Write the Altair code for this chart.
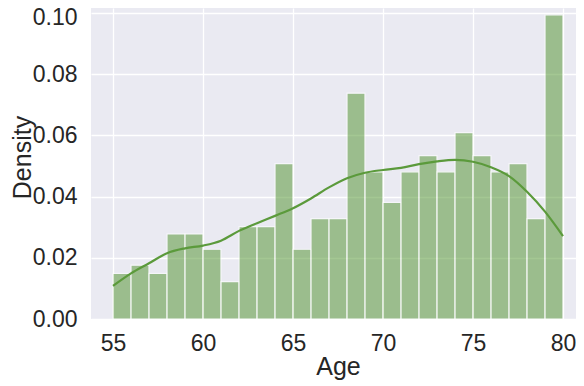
import altair as alt
import pandas as pd

# Histogram (bin width 1 year, 55..80), density values
bin_start = list(range(55, 80))
density = [0.0149, 0.0176, 0.0149, 0.0278, 0.0278, 0.0228, 0.0122, 0.0302, 0.0302,
           0.0508, 0.0228, 0.0328, 0.0328, 0.0738, 0.0481, 0.0381, 0.0481, 0.0534,
           0.0481, 0.0609, 0.0534, 0.0481, 0.0508, 0.0328, 0.0994]

# KDE curve
kde_age = [55, 56, 57, 58, 59, 60, 61, 62, 63, 64, 65, 66, 67, 68, 69, 70, 71, 72,
           73, 74, 75, 76, 77, 78, 79, 80]
kde_val = [0.0108, 0.0149, 0.0182, 0.0215, 0.0231, 0.0240, 0.0256, 0.0288, 0.0313,
           0.0337, 0.0362, 0.0394, 0.0430, 0.0460, 0.0478, 0.0487, 0.0494, 0.0506,
           0.0515, 0.0520, 0.0514, 0.0496, 0.0467, 0.0416, 0.0351, 0.0271]

x_ticks = [55, 60, 65, 70, 75, 80]
y_ticks = [0.0, 0.02, 0.04, 0.06, 0.08, 0.10]

hist_df = pd.DataFrame({"start": bin_start,
                        "end": [b + 1 for b in bin_start],
                        "density": density})
kde_df = pd.DataFrame({"age": kde_age, "kde": kde_val})

FONT = "Liberation Sans"
x_scale = alt.Scale(domain=[53.778, 80.722], nice=False, zero=False)
y_scale = alt.Scale(domain=[0, 0.10163], nice=False)

x_axis = alt.Axis(values=x_ticks, title="Age", grid=True, gridColor="white", gridWidth=1.3,
                  domain=False, ticks=False, tickSize=0, labelPadding=13,
                  labelFontSize=23, labelColor="#262626", labelFont=FONT,
                  titleFont=FONT, titleFontSize=25, titleColor="#262626",
                  titleFontWeight="normal", titleX=247, titleY=55,
                  titleBaseline="alphabetic", titleAlign="center")
y_axis = alt.Axis(values=y_ticks, format=".2f", title="Density", grid=True,
                  gridColor="white", gridWidth=1.3, domain=False, ticks=False,
                  tickSize=0, labelPadding=14, labelFontSize=23, labelColor="#262626",
                  labelFont=FONT,
                  labelOffset=alt.condition("datum.value >= 0.099", alt.value(5), alt.value(0)),
                  titleFont=FONT, titleFontSize=25,
                  titleColor="#262626", titleFontWeight="normal", titleAngle=270,
                  titleX=-61, titleY=149, titleBaseline="alphabetic",
                  titleAlign="center")

bars = alt.Chart(hist_df).mark_rect(color="#5b9a3b", opacity=0.55, stroke="white",
                                     strokeWidth=1.2, strokeOpacity=1).encode(
    x=alt.X("start:Q", scale=x_scale, axis=x_axis),
    x2="end:Q",
    y=alt.Y("density:Q", scale=y_scale, axis=y_axis),
    y2=alt.datum(0),
)

line = alt.Chart(kde_df).mark_line(color="#5b9a3b", strokeWidth=2.2,
                                   interpolate="monotone").encode(
    x=alt.X("age:Q", scale=x_scale),
    y=alt.Y("kde:Q", scale=y_scale),
)

chart = (bars + line).properties(
    width=485, height=311,
    autosize=alt.AutoSizeParams(type="none"),
    padding={"left": 83, "top": 0, "right": 0, "bottom": 63},
    background="white",
).configure_view(fill="#EAEAF2", stroke=None)

chart.save("out.html", embed_options={"renderer": "svg", "actions": False})
